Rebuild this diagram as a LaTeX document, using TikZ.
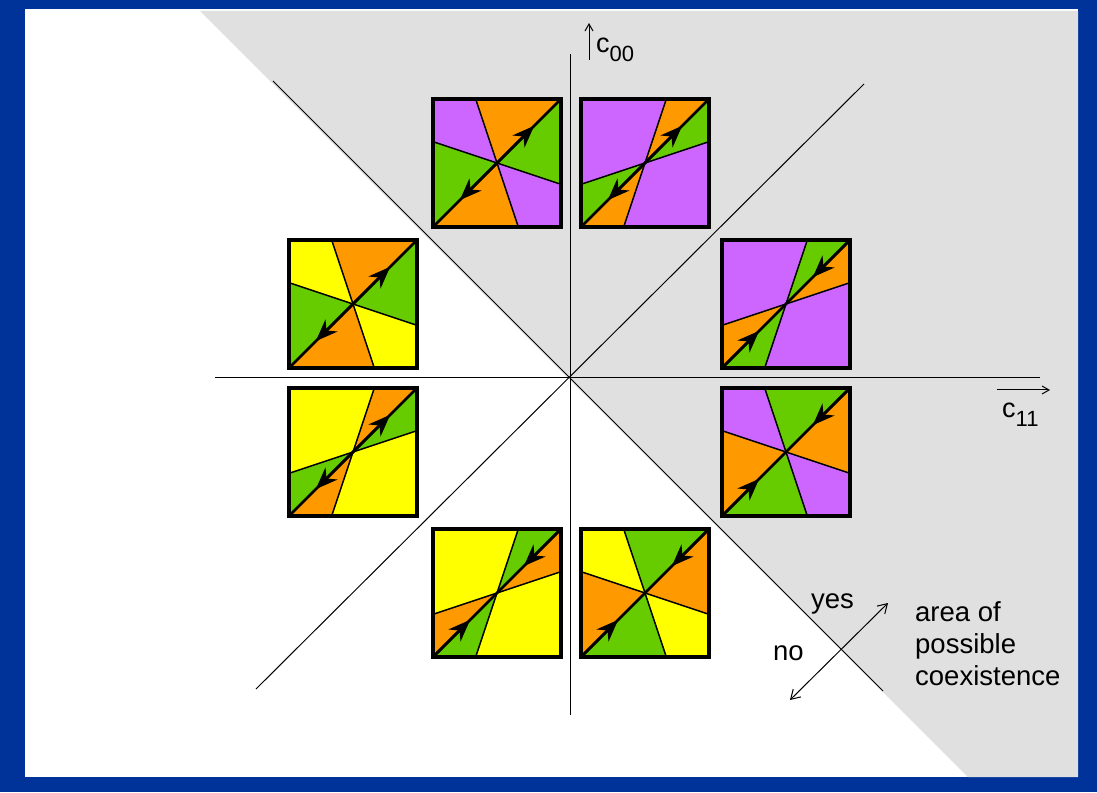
\documentclass[tikz,border=0pt]{standalone}
\usepackage{fontspec}
\setmainfont{Liberation Sans}
\usepackage{xcolor}
\usepackage{tikz}
\usetikzlibrary{arrows.meta,positioning}
\definecolor{frameblue}{HTML}{003399}
\definecolor{shadegray}{HTML}{E0E0E0}
\definecolor{orng}{HTML}{FF9900}
\definecolor{grn}{HTML}{66CC00}
\definecolor{purp}{HTML}{CC66FF}
\definecolor{yell}{HTML}{FFFF00}
\tikzset{
  axline/.style={line width=1pt},
  axarrow/.style={line width=1pt, -{Straight Barb[length=7pt,width=8pt]}},
  choice/.style={line width=1pt, {Straight Barb[length=9pt,width=11pt]}-{Straight Barb[length=9pt,width=11pt]}},
  sepline/.style={line width=1.5pt},
  diagline/.style={line width=2.6pt},
  flowtip/.style={-{Stealth[length=22pt,width=17pt,inset=7pt]}},
  sqframe/.style={draw, line width=3.2pt, minimum size=128pt, inner sep=0pt},
  lbl/.style={font=\fontsize{27}{30}\selectfont, inner sep=0pt},
  note/.style={font=\fontsize{27.5}{32}\selectfont, inner sep=0pt, align=left},
}
\newcommand{\sub}[1]{\raisebox{-9pt}{\fontsize{22}{22}\selectfont #1}}
% #1 name, #2 centre, #3 split, #4-#6 sector colours, #7 arrow start, #8 arrow tip
\newcommand{\phasesq}[8]{%
  \begin{scope}[shift={#2}, x=128pt, y=128pt, shift={(-0.5,-0.5)}]
    \coordinate (#1m) at (0.5,0.5);
    \fill[#4] (#1m) -- (#3,1) -- (1,1) -- cycle;
    \fill[#5] (#1m) -- (1,1) -- (1,#3) -- cycle;
    \fill[#6] (#1m) -- (1,#3) -- (1,0) -- ({1-#3},0) -- cycle;
    \fill[#4] (#1m) -- ({1-#3},0) -- (0,0) -- cycle;
    \fill[#5] (#1m) -- (0,0) -- (0,{1-#3}) -- cycle;
    \fill[#6] (#1m) -- (0,{1-#3}) -- (0,1) -- (#3,1) -- cycle;
    \draw[sepline] (#3,1) -- ({1-#3},0);
    \draw[sepline] (0,{1-#3}) -- (1,#3);
    \draw[diagline] (0,0) -- (1,1);
    \draw[diagline, flowtip] (#7,#7) -- (#8,#8);
    \draw[diagline, flowtip] ({1-#7},{1-#7}) -- ({1-#8},{1-#8});
    \node[sqframe] (#1) at (#1m) {};
  \end{scope}}

\begin{document}
\begin{tikzpicture}[x=1pt, y=1pt]
  \fill[frameblue] (-570,-414) rectangle (527,378);
  \useasboundingbox (-570,-414) rectangle (527,378);
  \fill[white] (-545,-399) rectangle (508,369);
  \fill[shadegray] (-370,367) -- (508,367) -- (508,-399) -- (398,-399) -- cycle;

  \coordinate (xl) at (-355,0);
  \coordinate (xr) at (470,0);
  \coordinate (yb) at (0,-337);
  \coordinate (yt) at (0,324);
  \coordinate (nw) at (-297,297);
  \coordinate (se) at (313,-313);
  \coordinate (sw) at (-314,-311);
  \coordinate (ne) at (294,294);
  \draw[axline] (xl) -- (xr);
  \draw[axline] (yb) -- (yt);
  \draw[axline] (nw) -- (se);
  \draw[axline] (sw) -- (ne);

  \phasesq{tl}{(-73,215)}{0.3333}{orng}{grn}{purp}{0.5}{0.79}
  \phasesq{tr}{(75,215)}{0.6667}{orng}{grn}{purp}{0.5}{0.79}
  \phasesq{lu}{(-217,74)}{0.3333}{orng}{grn}{yell}{0.5}{0.79}
  \phasesq{ll}{(-217,-74)}{0.6667}{orng}{grn}{yell}{0.5}{0.79}
  \phasesq{ru}{(216,74)}{0.6667}{grn}{orng}{purp}{1}{0.71}
  \phasesq{rl}{(216,-74)}{0.3333}{grn}{orng}{purp}{1}{0.71}
  \phasesq{bl}{(-73,-215)}{0.6667}{grn}{orng}{yell}{1}{0.71}
  \phasesq{br}{(75,-215)}{0.3333}{grn}{orng}{yell}{1}{0.71}

  \coordinate (c00a) at (19,318);
  \coordinate (c00b) at (19,355);
  \draw[axarrow] (c00a) -- (c00b);
  \node[lbl, anchor=base west] (c00) at (26,325) {c\sub{00}};
  \coordinate (c11a) at (427,-12);
  \coordinate (c11b) at (480,-12);
  \draw[axarrow] (c11a) -- (c11b);
  \node[lbl, anchor=base west] (c11) at (432,-39) {c\sub{11}};

  \coordinate (nopt) at (220,-322);
  \coordinate (yespt) at (318,-225);
  \draw[choice] (nopt) -- (yespt);
  \node[note, anchor=base west] (yes) at (241,-230) {yes};
  \node[note, anchor=base west] (no) at (203,-282) {no};
  \node[note, anchor=north west] (area) at (345,-223) {area of\\possible\\coexistence};
\end{tikzpicture}
\end{document}
